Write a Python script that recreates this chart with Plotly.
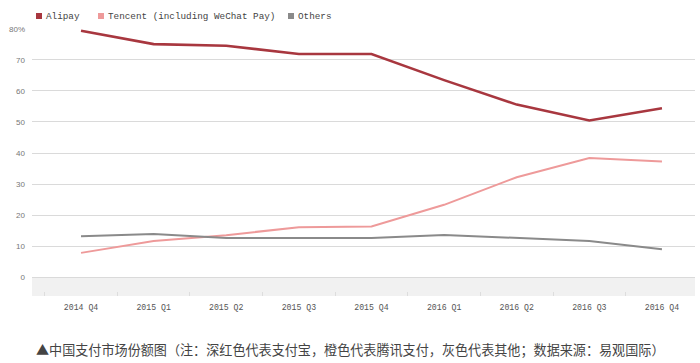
import plotly.graph_objects as go

categories = ["2014 Q4", "2015 Q1", "2015 Q2", "2015 Q3", "2015 Q4",
              "2016 Q1", "2016 Q2", "2016 Q3", "2016 Q4"]
alipay = [79.4, 75.1, 74.6, 71.9, 71.9, 63.5, 55.6, 50.5, 54.4]
tencent = [7.8, 11.6, 13.5, 16.1, 16.3, 23.3, 32.2, 38.4, 37.3]
others = [13.2, 13.9, 12.6, 12.6, 12.6, 13.6, 12.6, 11.6, 9.0]
series_names = ["Alipay", "Tencent (including WeChat Pay)", "Others"]
y_ticks = [0, 10, 20, 30, 40, 50, 60, 70, 80]
y_ticktext = ["0", "10", "20", "30", "40", "50", "60", "70", "80%"]
caption = "▲中国支付市场份额图（注：深红色代表支付宝，橙色代表腾讯支付，灰色代表其他；数据来源：易观国际）"

colors = ["#a8373f", "#ee9a9a", "#8a8a8a"]
widths = [2.6, 2.0, 2.0]
values = [alipay, tencent, others]

W, H = 700, 363
ML, MR, MT, MB = 32, 5, 28, 67
PW, PH = W - ML - MR, H - MT - MB

fig = go.Figure()
for name, vals, c, w in zip(series_names, values, colors, widths):
    fig.add_trace(go.Scatter(x=categories, y=vals, mode="lines", name=name,
                             line=dict(color=c, width=w), showlegend=False))

fig.add_shape(type="rect", xref="paper", yref="y", x0=0, x1=1, y0=-6.1, y1=0,
              fillcolor="#f1f1f1", line=dict(width=0), layer="below")

# custom legend: square swatch + name
legend_x_px = [36, 98, 288]
annotations = []
for name, c, lx in zip(series_names, colors, legend_x_px):
    x0 = (lx - ML) / PW
    x1 = (lx + 6 - ML) / PW
    fig.add_shape(type="rect", xref="paper", yref="paper", x0=x0, x1=x1,
                  y0=1 + 9 / PH, y1=1 + 15 / PH, fillcolor=c, line=dict(width=0))
    annotations.append(dict(text=name, xref="paper", yref="paper",
                            x=(lx + 8 - ML) / PW, y=1 + 12 / PH,
                            xanchor="left", yanchor="middle", showarrow=False,
                            font=dict(family="Liberation Mono", size=9.3, color="#444")))

annotations.append(dict(text=caption, xref="paper", yref="paper", x=(34 - ML) / PW,
                        y=-(42 / PH), xanchor="left", yanchor="top", showarrow=False,
                        font=dict(family="Noto Sans CJK SC", size=13.1, color="#444")))

fig.update_layout(
    width=W, height=H,
    margin=dict(l=ML, r=MR, t=MT, b=MB),
    paper_bgcolor="white", plot_bgcolor="white",
    showlegend=False,
    xaxis=dict(type="category", range=[-0.675, 8.455], showgrid=False,
               tickfont=dict(family="Liberation Mono", size=8.2, color="#555"),
               tickson="boundaries", ticks="inside", ticklen=4, tickcolor="#dddddd",
               ticklabelstandoff=5, showline=False, zeroline=False),
    yaxis=dict(range=[-6.1, 80.3], tickvals=y_ticks, ticktext=y_ticktext,
               showgrid=True, gridcolor="#dadada", gridwidth=1, zeroline=False,
               tickfont=dict(family="Liberation Sans", size=8, color="#777"),
               ticklabelstandoff=6, showline=False),
    annotations=annotations,
)
fig.write_html("out.html")
